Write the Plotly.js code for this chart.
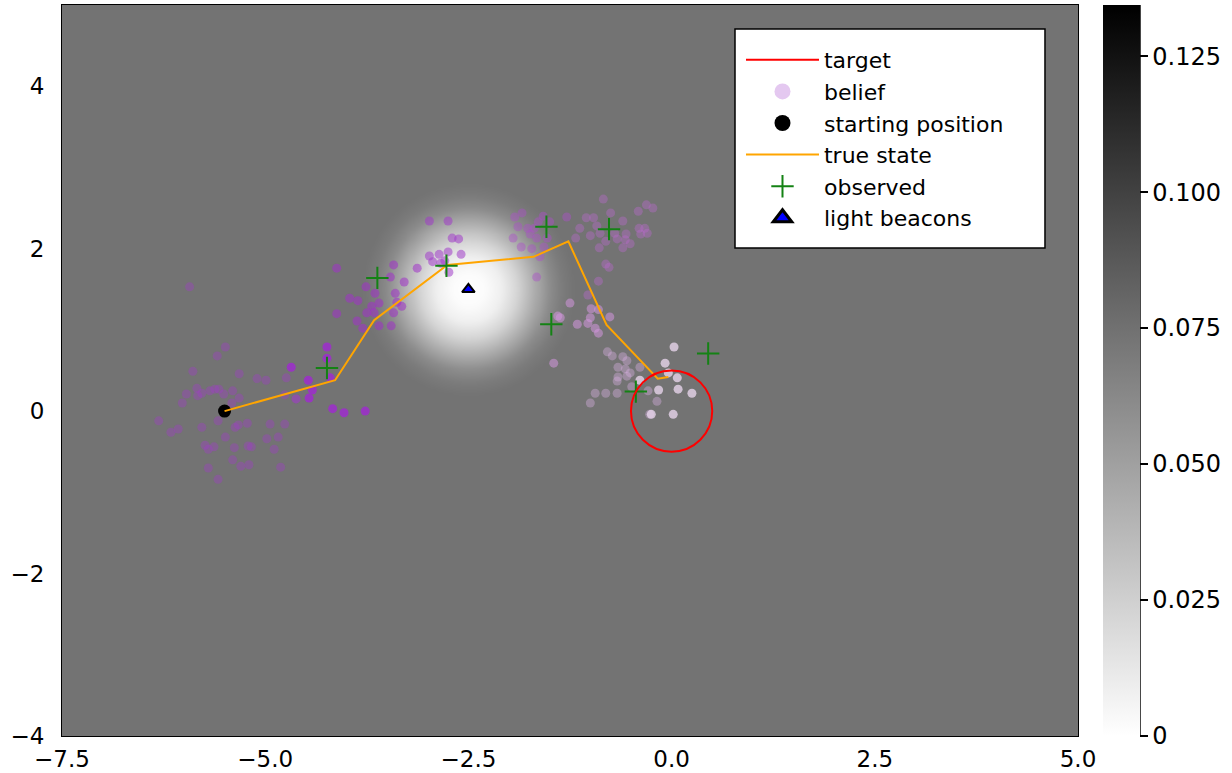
<!DOCTYPE html>
<html><head><meta charset="utf-8">
<script src="https://cdn.plot.ly/plotly-3.0.1.min.js"></script>
<style>html,body{margin:0;padding:0;background:#fff}#plot{width:1232px;height:773px}</style>
</head><body><div id="plot"></div>
<script>
// ---------- data ----------
const trueX = [-5.5, -4.14, -3.66, -2.76, -1.70, -1.27, -0.80, -0.17, -0.04];
const trueY = [0.0, 0.38, 1.12, 1.80, 1.90, 2.09, 1.06, 0.40, 0.42];

const obsX = [-4.24, -3.62, -2.77, -1.54, -0.77, -1.48, -0.44, 0.45];
const obsY = [0.53, 1.64, 1.79, 2.27, 2.24, 1.07, 0.24, 0.71];

const startX = [-5.5];
const startY = [0.0];

const beaconX = [-2.5];
const beaconY = [1.5];

const targetX = [0.0];
const targetY = [0.0];
const targetR = [0.5];

// belief particles (x, y), grouped by time step
const beliefX = [
  // step 0
  -5.49,-5.59,-5.89,-5.32,-5.10,-4.99,-4.74,-5.97,-5.84,-5.83,-5.78,-5.68,-5.62,-5.57,-5.51,-5.40,-5.32,-5.41,-6.02,-6.31,
  -6.16,-6.07,-5.78,-5.58,-5.37,-5.33,-5.22,-5.49,-4.94,-4.76,-4.98,-4.84,-4.89,-5.74,-5.70,-5.63,-5.38,-5.21,-5.17,-5.40,
  -5.30,-5.20,-5.70,-5.58,-4.81,-4.76,-4.62,-5.93,-4.62,
  // step 1
  -4.24,-4.24,-4.20,-4.47,-4.42,-4.46,-4.68,-4.17,-4.03,-3.77,
  // step 2
  -4.12,-3.46,-3.76,-3.65,-3.96,-3.86,-3.69,-3.60,-3.75,-3.66,-3.40,-3.29,-3.38,-3.32,-3.42,-3.87,-3.80,-3.60,-3.45,-4.12,
  -3.42,-3.13,
  // step 3
  -2.98,-2.75,-2.70,-2.62,-2.98,-2.86,-2.75,-2.59,-2.94,-2.84,-2.74,-2.79,
  // step 4
  -1.93,-1.84,-1.58,-1.64,-1.50,-1.89,-1.77,-1.74,-1.66,-1.95,-1.53,-1.57,-1.85,-1.72,-1.62,-1.66,-1.29,-1.69,
  // step 5
  -0.84,-1.05,-0.96,-0.75,-0.60,-1.13,-0.92,-1.00,-1.18,-0.88,-0.81,-0.70,-0.67,-0.56,-0.57,-0.51,-0.60,-0.89,-0.41,-0.31,
  -0.23,-0.40,-0.33,-0.38,-0.30,-0.81,-0.77,-0.90,-1.03,
  // step 6
  -1.25,-1.40,-1.37,-0.99,-0.90,-0.76,-1.00,-1.03,-1.16,-0.94,-0.90,-1.45,
  // step 7
  -0.79,-0.73,-0.60,-0.55,-0.66,-0.57,-0.51,-0.66,-0.67,-0.55,-0.39,-0.49,-0.81,-0.94,-0.67,-1.00,-0.29,-0.18,-0.27,
  // step 8
  0.03,-0.08,-0.04,0.07,0.25,-0.16,0.08,0.02,-0.25,-0.39
];
const beliefY = [
  // step 0
  0.79,0.68,0.49,0.46,0.40,0.38,0.41,0.21,0.28,0.19,0.22,0.25,0.27,0.27,0.21,0.25,0.16,0.10,0.10,-0.12,
  -0.26,-0.22,-0.20,-0.12,-0.20,-0.17,-0.15,-0.32,-0.16,-0.16,-0.34,-0.32,-0.47,-0.42,-0.47,-0.44,-0.45,-0.43,-0.44,-0.60,
  -0.68,-0.66,-0.70,-0.84,-0.69,0.20,0.15,1.53,0.15,
  // step 1
  0.79,0.65,0.41,0.38,0.26,0.16,0.54,0.03,-0.02,0.00,
  // step 2
  1.76,1.65,1.53,1.45,1.39,1.36,1.29,1.33,1.21,1.21,1.45,1.59,1.34,1.29,1.21,1.11,1.02,1.05,1.05,1.20,
  1.80,1.76,
  // step 3
  2.34,2.34,2.13,2.12,1.91,1.93,1.96,1.93,1.84,1.82,1.71,1.85,
  // step 4
  2.39,2.44,2.40,2.33,2.33,2.27,2.25,2.18,2.13,2.13,2.13,2.02,2.02,2.00,1.90,1.65,2.39,2.25,
  // step 5
  2.61,2.38,2.38,2.44,2.34,2.25,2.28,2.16,2.13,2.19,2.09,2.19,2.12,2.18,2.11,2.06,2.01,2.01,2.46,2.54,
  2.50,2.25,2.25,2.18,2.19,1.81,1.77,1.60,1.43,
  // step 6
  1.33,1.17,1.15,1.26,1.25,1.16,1.15,1.08,1.07,1.02,0.96,0.59,
  // step 7
  0.73,0.68,0.67,0.62,0.54,0.52,0.47,0.42,0.37,0.43,0.54,0.30,0.22,0.22,0.22,0.10,0.25,0.12,-0.04,
  // step 8
  0.79,0.59,0.47,0.41,0.22,0.26,0.27,-0.04,-0.04,0.38
];
const beliefCounts = [49, 10, 22, 12, 18, 29, 12, 19, 10];
const stepColors = [
  'rgba(160,60,200,0.38)',
  'rgba(160,40,210,0.80)',
  'rgba(160,50,200,0.55)',
  'rgba(160,60,200,0.55)',
  'rgba(170,80,200,0.45)',
  'rgba(185,105,205,0.40)',
  'rgba(210,150,220,0.55)',
  'rgba(215,175,225,0.40)',
  'rgba(238,218,242,0.75)'
];

// light field: radial profile around each beacon
const lightR = [0.0, 0.2, 0.4, 0.6, 0.8, 1.0, 1.15, 1.3];
const lightZ = [0.0, 0.0020, 0.0085, 0.0225, 0.0420, 0.0610, 0.0695, 0.0738];
const backgroundZ = 0.0738;
const zMax = 0.1344;

const xTicks = [-7.5, -5.0, -2.5, 0.0, 2.5, 5.0];
const yTicks = [-4, -2, 0, 2, 4];
const cbTicks = [0, 0.025, 0.05, 0.075, 0.1, 0.125];
const cbLabels = ['0', '0.025', '0.050', '0.075', '0.100', '0.125'];

// ---------- build ----------
const beliefStep = [];
beliefCounts.forEach((n, s) => { for (let i = 0; i < n; i++) beliefStep.push(s); });
const beliefColor = beliefStep.map(s => stepColors[s]);

function lightAt(d) {
  if (d >= lightR[lightR.length - 1]) return backgroundZ;
  for (let i = 0; i < lightR.length - 1; i++) {
    if (d <= lightR[i + 1]) {
      const t = (d - lightR[i]) / (lightR[i + 1] - lightR[i]);
      return lightZ[i] + t * (lightZ[i + 1] - lightZ[i]);
    }
  }
  return backgroundZ;
}
const cell = 0.05;
const gx = [], gy = [];
for (let x = -7.5 + cell / 2; x < 5; x += cell) gx.push(+x.toFixed(4));
for (let y = -4 + cell / 2; y < 5; y += cell) gy.push(+y.toFixed(4));
const gz = gy.map(y => gx.map(x => {
  let v = backgroundZ;
  for (let b = 0; b < beaconX.length; b++) {
    const d = Math.hypot(x - beaconX[b], y - beaconY[b]);
    v = Math.min(v, lightAt(d));
  }
  return v;
}));

const FONT = 'DejaVu Sans, sans-serif';
const nul = [null];

const traces = [
  {
    type: 'heatmap', x: gx, y: gy, z: gz, zmin: 0, zmax: zMax, zsmooth: 'best',
    colorscale: [[0, 'rgb(255,255,255)'], [1, 'rgb(0,0,0)']],
    showlegend: false, hoverinfo: 'skip',
    colorbar: {
      thickness: 37, thicknessmode: 'pixels', len: 1, lenmode: 'fraction',
      x: 1.0246, xanchor: 'left', xpad: 0, y: 0.5, yanchor: 'middle', ypad: 0,
      outlinewidth: 0, tickvals: cbTicks, ticktext: cbLabels,
      ticks: 'outside', ticklen: 8, tickwidth: 1.5, tickcolor: '#000',
      tickfont: {family: FONT, size: 24, color: '#000'}
    }
  },
  // legend-only entries
  {type: 'scatter', x: nul, y: nul, mode: 'lines', name: 'target',
   line: {color: 'rgb(255,0,0)', width: 2}, legendrank: 1},
  {type: 'scatter', x: nul, y: nul, mode: 'markers', name: 'belief',
   marker: {color: 'rgb(228,200,240)', size: 16}, legendrank: 2},
  {type: 'scatter', x: nul, y: nul, mode: 'markers', name: 'starting position',
   marker: {color: '#000', size: 16}, legendrank: 3},
  // real marks
  {type: 'scatter', x: beliefX, y: beliefY, mode: 'markers', showlegend: false,
   marker: {color: beliefColor, size: 9, line: {width: 0}}, hoverinfo: 'skip'},
  {type: 'scatter', x: startX, y: startY, mode: 'markers', showlegend: false,
   marker: {color: '#000', size: 13}},
  {type: 'scatter', x: trueX, y: trueY, mode: 'lines', name: 'true state',
   line: {color: 'rgb(255,165,0)', width: 2}, legendrank: 4},
  {type: 'scatter', x: obsX, y: obsY, mode: 'markers', name: 'observed',
   marker: {symbol: 'cross-thin', size: 16, line: {color: 'rgb(20,130,20)', width: 2}}, legendrank: 5},
  {type: 'scatter', x: beaconX, y: beaconY, mode: 'markers', showlegend: false,
   marker: {symbol: 'triangle-up', size: 11, color: 'blue', line: {color: '#000', width: 2}}},
  {type: 'scatter', x: nul, y: nul, mode: 'markers', name: 'light beacons',
   marker: {symbol: 'triangle-up', size: 16, color: 'blue', line: {color: '#000', width: 3}}, legendrank: 6}
];

const shapes = targetX.map((cx, i) => ({
  type: 'circle', xref: 'x', yref: 'y', layer: 'above',
  x0: cx - targetR[i], x1: cx + targetR[i], y0: targetY[i] - targetR[i], y1: targetY[i] + targetR[i],
  line: {color: 'rgb(255,0,0)', width: 2}
}));
// colorbar right edge line
shapes.push({type: 'line', xref: 'paper', yref: 'paper', x0: 1.061, x1: 1.061, y0: 0, y1: 1,
  line: {color: '#000', width: 1.5}});
// legend box
shapes.push({type: 'rect', xref: 'paper', yref: 'paper', layer: 'above',
  x0: 0.6624, x1: 0.9675, y0: 0.6676, y1: 0.9672,
  fillcolor: '#fff', line: {color: '#000', width: 1.5}});

const axisCommon = {
  showgrid: false, zeroline: false, showline: true, mirror: true,
  linecolor: '#000', linewidth: 1, ticks: 'outside', tickcolor: 'rgba(0,0,0,0)',
  tickfont: {family: FONT, size: 23, color: '#000'}
};

const layout = {
  width: 1232, height: 773,
  margin: {l: 62, r: 154, t: 5, b: 37},
  paper_bgcolor: '#fff', plot_bgcolor: 'rgb(115,115,115)',
  font: {family: FONT, size: 22, color: '#000'},
  xaxis: Object.assign({}, axisCommon, {range: [-7.5, 5], tickvals: xTicks, tickformat: '.1f', ticklen: 2}),
  yaxis: Object.assign({}, axisCommon, {range: [-4, 5], tickvals: yTicks, tickformat: 'd', ticklen: 12}),
  legend: {
    x: 0.6683, y: 0.9535, xanchor: 'left', yanchor: 'top',
    bgcolor: 'rgba(0,0,0,0)', borderwidth: 0,
    font: {family: FONT, size: 22, color: '#000'},
    itemwidth: 73, tracegroupgap: 0, traceorder: 'normal'
  },
  shapes: shapes
};

Plotly.newPlot('plot', traces, layout, {displayModeBar: false, staticPlot: true});
</script>
</body></html>
